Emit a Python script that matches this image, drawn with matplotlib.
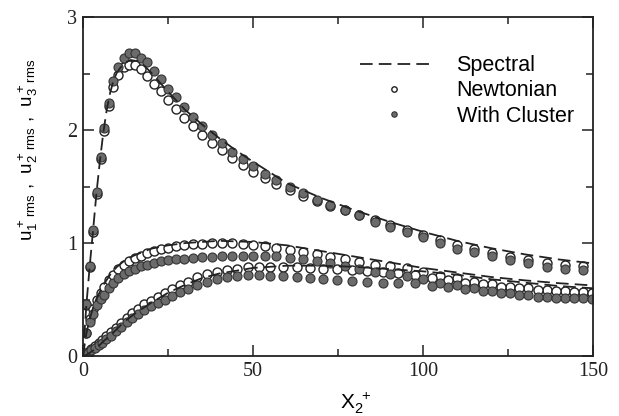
import matplotlib
matplotlib.use('Agg')
import matplotlib.pyplot as plt
from matplotlib.ticker import MultipleLocator

# grid points (u1 and the upper of the two lower curves share them)
x_grid = [0.0, 0.9, 2.0, 2.9, 4.0, 5.2, 6.2, 7.6, 8.9, 10.4, 12.1, 13.6, 15.3, 17.1, 18.9, 21.0,
          22.9, 25.1, 27.4, 29.7, 32.3, 34.9, 37.9, 40.8, 43.7, 47.0, 50.1, 53.5, 56.8, 60.9,
          64.8, 68.7, 72.6, 77.1, 81.3, 85.9, 90.3, 95.2, 100.1, 105.0, 109.9, 115.0, 120.4,
          125.6, 131.0, 136.4, 141.8, 147.0]
# in-between points of the lowest curve
x_mid = [0.45, 1.45, 2.45, 3.45, 4.6, 5.7, 6.9, 8.25, 9.65, 11.25, 12.85, 14.45, 16.2, 18.0,
         19.95, 21.95, 24.0, 26.25, 28.55, 31.0, 33.6, 36.4, 39.35, 42.25, 45.35, 48.55, 51.8,
         55.15, 58.85, 62.85, 66.75, 70.65, 74.85, 79.2, 83.6, 88.1, 92.75, 97.65, 102.55,
         107.45, 112.45, 117.7, 123.0, 128.3, 133.7, 139.1, 144.4, 149.6]

# u1 rms
u1_newt = [0.0, 0.45, 0.79, 1.10, 1.43, 1.74, 1.99, 2.21, 2.38, 2.49, 2.56, 2.58, 2.575, 2.54,
           2.48, 2.41, 2.35, 2.265, 2.19, 2.11, 2.035, 1.96, 1.89, 1.82, 1.75, 1.69, 1.63, 1.58,
           1.525, 1.47, 1.42, 1.37, 1.33, 1.29, 1.25, 1.20, 1.16, 1.12, 1.075, 1.03, 0.985,
           0.95, 0.915, 0.88, 0.85, 0.825, 0.81, 0.80]
u1_clus = [0.0, 0.46, 0.80, 1.12, 1.45, 1.76, 2.02, 2.24, 2.43, 2.56, 2.64, 2.68, 2.68, 2.64,
           2.60, 2.52, 2.45, 2.36, 2.29, 2.20, 2.12, 2.035, 1.96, 1.89, 1.81, 1.74, 1.68, 1.615,
           1.56, 1.50, 1.445, 1.38, 1.34, 1.29, 1.25, 1.19, 1.145, 1.10, 1.05, 1.00, 0.95, 0.92,
           0.885, 0.85, 0.82, 0.79, 0.775, 0.765]

# second curve (peak ~1)
u3_newt = [0.0, 0.2, 0.33, 0.42, 0.5, 0.56, 0.61, 0.67, 0.72, 0.77, 0.81, 0.84, 0.87, 0.89,
           0.91, 0.93, 0.945, 0.96, 0.97, 0.98, 0.99, 0.995, 1.0, 1.0, 1.0, 0.995, 0.985, 0.975,
           0.96, 0.94, 0.92, 0.90, 0.88, 0.855, 0.83, 0.81, 0.795, 0.78, 0.74, 0.71, 0.69, 0.66,
           0.635, 0.615, 0.60, 0.585, 0.575, 0.565]
u3_clus = [0.0, 0.2, 0.3, 0.37, 0.45, 0.505, 0.545, 0.6, 0.645, 0.69, 0.725, 0.75, 0.775, 0.795,
           0.81, 0.825, 0.84, 0.85, 0.855, 0.86, 0.865, 0.875, 0.88, 0.885, 0.89, 0.89, 0.89,
           0.89, 0.885, 0.87, 0.855, 0.845, 0.825, 0.796, 0.767, 0.745, 0.725, 0.712, 0.68,
           0.643, 0.628, 0.60, 0.578, 0.554, 0.54, 0.525, 0.516, 0.51]

# lowest curve
u2_newt = [0.01, 0.035, 0.06, 0.085, 0.115, 0.14, 0.175, 0.21, 0.25, 0.295, 0.34, 0.38, 0.42,
           0.46, 0.49, 0.52, 0.56, 0.59, 0.625, 0.66, 0.70, 0.725, 0.745, 0.76, 0.775, 0.785,
           0.79, 0.79, 0.79, 0.785, 0.78, 0.775, 0.77, 0.76, 0.75, 0.74, 0.737, 0.72, 0.69, 0.67,
           0.65, 0.635, 0.615, 0.60, 0.585, 0.575, 0.565, 0.555]
u2_clus = [0.01, 0.03, 0.05, 0.07, 0.10, 0.12, 0.15, 0.18, 0.22, 0.26, 0.30, 0.34, 0.37, 0.41,
           0.44, 0.47, 0.50, 0.53, 0.565, 0.59, 0.63, 0.66, 0.685, 0.70, 0.71, 0.717, 0.715, 0.71,
           0.705, 0.70, 0.695, 0.68, 0.67, 0.667, 0.66, 0.65, 0.65, 0.645, 0.62, 0.61, 0.59,
           0.578, 0.56, 0.54, 0.525, 0.516, 0.51, 0.504]

# spectral reference lines
xs1 = [0, 1, 2, 3, 4, 5, 6, 7, 8, 9, 10, 12, 14, 16, 18, 20, 25, 30, 35, 40, 45, 50, 60, 70,
       80, 90, 100, 110, 120, 130, 140, 150]
ys1 = [0, 0.45, 0.8, 1.12, 1.45, 1.73, 1.98, 2.18, 2.33, 2.44, 2.51, 2.59, 2.62, 2.61, 2.57,
       2.51, 2.34, 2.18, 2.05, 1.93, 1.82, 1.72, 1.53, 1.40, 1.29, 1.19, 1.10, 1.02, 0.955,
       0.90, 0.855, 0.82]
xs23 = [0, 1, 2, 3, 4, 5, 6, 8, 10, 12, 15, 20, 25, 30, 35, 40, 50, 60, 70, 80, 90, 100, 110,
        120, 130, 140, 150]
ys3 = [0, 0.2, 0.33, 0.43, 0.51, 0.57, 0.63, 0.72, 0.79, 0.84, 0.89, 0.95, 0.98, 1.0, 1.01,
       1.02, 1.01, 0.98, 0.93, 0.88, 0.83, 0.78, 0.74, 0.70, 0.67, 0.645, 0.625]
ys2 = [0, 0.01, 0.03, 0.05, 0.08, 0.1, 0.13, 0.18, 0.24, 0.30, 0.37, 0.47, 0.56, 0.63, 0.69,
       0.73, 0.78, 0.80, 0.80, 0.79, 0.77, 0.75, 0.72, 0.68, 0.65, 0.62, 0.60]

sans = ['Liberation Sans', 'DejaVu Sans']
serif = ['Liberation Serif', 'DejaVu Serif']

fig = plt.figure(figsize=(6.19, 4.16), dpi=100)
ax = fig.add_axes([0.134, 0.144, 0.824, 0.815])

open_kw = dict(ls='none', marker='o', ms=6.5, mfc='white', mec='#222222', mew=1.0)
fill_kw = dict(ls='none', marker='o', ms=6.5, mfc='#6b6b6b', mec='#333333', mew=0.8)
dash_kw = dict(color='#222222', lw=1.3, dashes=(7, 3.4))

# Newtonian (open), then cluster (filled) on top
ax.plot(x_grid, u1_newt, label='Newtonian', **open_kw)
ax.plot(x_grid, u3_newt, **open_kw)
ax.plot(x_mid, u2_newt, **open_kw)
ax.plot(x_grid, u1_clus, label='With Cluster', **fill_kw)
ax.plot(x_grid, u3_clus, **fill_kw)
ax.plot(x_mid, u2_clus, **fill_kw)

ax.plot(xs1, ys1, label='Spectral', **dash_kw)
ax.plot(xs23, ys3, **dash_kw)
ax.plot(xs23, ys2, **dash_kw)

ax.set_xlim(0, 150)
ax.set_ylim(0, 3)
ax.xaxis.set_major_locator(MultipleLocator(50))
ax.xaxis.set_minor_locator(MultipleLocator(25))
ax.yaxis.set_major_locator(MultipleLocator(1))
ax.yaxis.set_minor_locator(MultipleLocator(0.5))
ax.tick_params(which='both', direction='in', top=True, right=True, width=1.1, colors='#222222')
ax.tick_params(which='major', length=8, pad=4)
ax.tick_params(which='minor', length=5)
for lab in ax.get_xticklabels() + ax.get_yticklabels():
    lab.set_family(serif)
    lab.set_fontsize(14.5)
for sp in ax.spines.values():
    sp.set_linewidth(1.3)
    sp.set_color('#222222')

ax.set_xlabel(r'$\mathregular{X_2^{\ +}}$', family=sans, fontsize=15, labelpad=8)
ax.xaxis.set_label_coords(0.535, -0.1)
ax.set_ylabel(r'$\mathregular{u_1^+{}_{rms}\ ,\ u_2^+{}_{rms}\ ,\ u_3^+{}_{rms}}$',
              family=sans, fontsize=13.5)
ax.yaxis.set_label_coords(-0.085, 0.608)

# legend order: Spectral, Newtonian, With Cluster
h, l = ax.get_legend_handles_labels()
order = [2, 0, 1]
leg = ax.legend([h[i] for i in order], [l[i] for i in order], loc='upper right',
                bbox_to_anchor=(1.0, 0.945), frameon=False, handlelength=3.2,
                handletextpad=1.3, labelspacing=0.2, markerscale=0.6,
                prop={'family': sans, 'size': 15.5})

plt.savefig('out.png', dpi=100)
